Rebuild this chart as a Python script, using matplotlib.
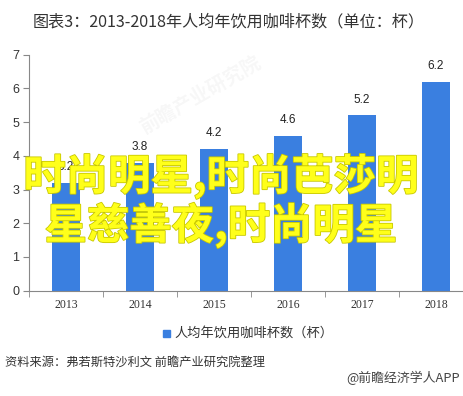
import matplotlib
matplotlib.use("Agg")
import matplotlib.pyplot as plt
import matplotlib.patheffects as pe

plt.rcParams['font.family'] = ['Noto Sans CJK SC', 'DejaVu Sans']

years = ["2013", "2014", "2015", "2016", "2017", "2018"]
cups = [3.2, 3.8, 4.2, 4.6, 5.2, 6.2]
yticks = [0, 1, 2, 3, 4, 5, 6, 7]

title = "图表3：2013-2018年人均年饮用咖啡杯数（单位：杯）"
legend_label = "人均年饮用咖啡杯数（杯）"
source = "资料来源：弗若斯特沙利文 前瞻产业研究院整理"
credit = "@前瞻经济学人APP"
overlay = "时尚明星,时尚芭莎明\n星慈善夜,时尚明星"
watermark = "前瞻产业研究院"

W, H = 464, 396
fig = plt.figure(figsize=(W / 100, H / 100), dpi=100)
fig.patch.set_facecolor("white")

ax = fig.add_axes([29 / W, (H - 290.7) / H, 444 / W, (290.7 - 54.7) / H])
x = list(range(len(years)))
bar_color = "#3a7fe0"
ax.bar(x, cups, width=0.39, color=bar_color, zorder=2)
for xi, v in zip(x, cups):
    ax.annotate(f"{v}", (xi, v), xytext=(0, 7), textcoords="offset points",
                ha="center", va="bottom", fontsize=8.5, color="#222222",
                family=["Liberation Sans", "DejaVu Sans"])

ax.set_xlim(-0.5, len(years) - 0.5)
ax.set_ylim(0, 7)
ax.set_yticks(yticks)
ax.set_yticklabels([str(t) for t in yticks], family=["Liberation Sans", "DejaVu Sans"],
                   fontsize=9, color="#333333")
ax.set_xticks(x)
ax.set_xticklabels(years, family=["Liberation Serif", "DejaVu Serif"], fontsize=8.5, color="#333333")
ax.set_xticks([i + 0.5 for i in range(-1, len(years))], minor=True)
ax.tick_params(axis="x", which="major", length=0, pad=6)
ax.tick_params(axis="x", which="minor", length=4, color="#888888", direction="out")
ax.tick_params(axis="y", length=4, color="#888888", pad=3)
for s in ["top", "right"]:
    ax.spines[s].set_visible(False)
ax.spines["left"].set_color("#888888")
ax.spines["bottom"].set_color("#888888")

fig.text(229 / W, 1 - 22 / H, title, ha="center", va="center", fontsize=11.6, color="#333333")

# legend
fig.patches.append(plt.Rectangle((163 / W, 1 - 337 / H), 7 / W, 7 / H,
                                 transform=fig.transFigure, color=bar_color))
fig.text(174 / W, 1 - 333 / H, legend_label, ha="left", va="center", fontsize=9.5, color="#333333")

fig.text(5 / W, 1 - 362 / H, source, ha="left", va="center", fontsize=8.8,
         style="italic", color="#333333")
fig.text(460 / W, 1 - 378 / H, credit, ha="right", va="center", fontsize=9.3, color="#444444")

fig.text(200 / W, 1 - 95 / H, watermark, ha="center", va="center", fontsize=14,
         rotation=30, color="#000000", alpha=0.035, weight="bold")

fig.text(221 / W, 1 - 201 / H, overlay, ha="center", va="center", fontsize=30.5,
         weight="bold", color="#ffff1a", linespacing=1.1,
         path_effects=[pe.withStroke(linewidth=1.2, foreground="#c8c800")])

fig.savefig("out.png", dpi=100, facecolor="white")
